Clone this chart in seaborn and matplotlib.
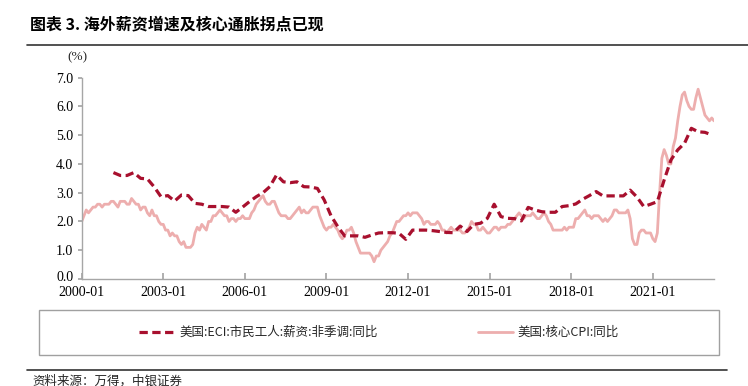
import numpy as np
import pandas as pd
import matplotlib
matplotlib.use("Agg")
import matplotlib.pyplot as plt
import matplotlib.transforms as mtransforms
from matplotlib.patches import Rectangle
import seaborn as sns

# ---------------- data ----------------
# US core CPI y/y, monthly 2000-01 .. 2023-04
cpi_2000_2009 = [
    2.0, 2.2, 2.4, 2.3, 2.4, 2.5, 2.5, 2.6, 2.6, 2.5, 2.6, 2.6,
    2.6, 2.7, 2.7, 2.6, 2.5, 2.7, 2.7, 2.7, 2.6, 2.6, 2.8, 2.7,
    2.6, 2.6, 2.4, 2.5, 2.5, 2.3, 2.2, 2.4, 2.2, 2.2, 2.0, 1.9,
    1.9, 1.7, 1.7, 1.5, 1.6, 1.5, 1.5, 1.3, 1.2, 1.3, 1.1, 1.1,
    1.1, 1.2, 1.6, 1.8, 1.7, 1.9, 1.8, 1.7, 2.0, 2.0, 2.2, 2.2,
    2.3, 2.4, 2.3, 2.2, 2.2, 2.0, 2.1, 2.1, 2.0, 2.1, 2.1, 2.2,
    2.1, 2.1, 2.1, 2.3, 2.4, 2.6, 2.7, 2.8, 2.9, 2.7, 2.6, 2.6,
    2.7, 2.7, 2.5, 2.3, 2.2, 2.2, 2.2, 2.1, 2.1, 2.2, 2.3, 2.4,
    2.5, 2.3, 2.4, 2.3, 2.3, 2.4, 2.5, 2.5, 2.5, 2.2, 2.0, 1.8,
    1.7, 1.8, 1.8, 1.9, 1.8, 1.7, 1.5, 1.4, 1.5, 1.7, 1.7, 1.8,
]
cpi_2010_2023 = [
    1.6, 1.3, 1.1, 0.9, 0.9, 0.9, 0.9, 0.9, 0.8, 0.6, 0.8, 0.8,
    1.0, 1.1, 1.2, 1.3, 1.5, 1.6, 1.8, 2.0, 2.0, 2.1, 2.2, 2.2,
    2.3, 2.2, 2.3, 2.3, 2.3, 2.2, 2.1, 1.9, 2.0, 2.0, 1.9, 1.9,
    1.9, 2.0, 1.9, 1.7, 1.7, 1.6, 1.7, 1.8, 1.7, 1.7, 1.7, 1.7,
    1.6, 1.6, 1.7, 1.8, 2.0, 1.9, 1.9, 1.7, 1.7, 1.8, 1.7, 1.6,
    1.6, 1.7, 1.8, 1.8, 1.7, 1.8, 1.8, 1.8, 1.9, 1.9, 2.0, 2.1,
    2.2, 2.3, 2.2, 2.1, 2.2, 2.2, 2.2, 2.3, 2.2, 2.1, 2.1, 2.2,
    2.3, 2.2, 2.0, 1.9, 1.7, 1.7, 1.7, 1.7, 1.7, 1.8, 1.7, 1.8,
    1.8, 1.8, 2.1, 2.1, 2.2, 2.3, 2.4, 2.2, 2.2, 2.1, 2.2, 2.2,
    2.2, 2.1, 2.0, 2.1, 2.0, 2.1, 2.2, 2.4, 2.4, 2.3, 2.3, 2.3,
    2.3, 2.4, 2.1, 1.4, 1.2, 1.2, 1.6, 1.7, 1.7, 1.6, 1.6, 1.6,
    1.4, 1.3, 1.6, 3.0, 4.2, 4.5, 4.3, 4.0, 4.0, 4.6, 4.9, 5.5,
    6.0, 6.4, 6.5, 6.2, 6.0, 5.9, 5.9, 6.3, 6.6, 6.3, 6.0, 5.7,
    5.6, 5.5, 5.6, 5.5,
]
cpi_values = cpi_2000_2009 + cpi_2010_2023

# US ECI civilian wages y/y (NSA), quarterly 2001Q1 .. 2023Q1
eci_values = [
    3.7, 3.6, 3.6, 3.7,
    3.5, 3.48, 3.2, 2.86,
    2.9, 2.71, 2.92, 2.9,
    2.63, 2.6, 2.52, 2.52,
    2.52, 2.5, 2.32, 2.5,
    2.69, 2.86, 3.0, 3.21,
    3.62, 3.38, 3.35, 3.38,
    3.21, 3.2, 3.15, 2.75,
    2.2, 1.82, 1.5, 1.5,
    1.5, 1.45, 1.53, 1.6,
    1.61, 1.61, 1.59, 1.38,
    1.70, 1.70, 1.70, 1.68,
    1.65, 1.62, 1.61, 1.84,
    1.65, 1.9, 1.94, 2.11,
    2.6, 2.17, 2.11, 2.1,
    2.02, 2.49, 2.4, 2.34,
    2.32, 2.32, 2.52, 2.55,
    2.61, 2.77, 2.9, 3.04,
    2.89, 2.89, 2.89, 2.89,
    3.09, 2.85, 2.52, 2.6,
    2.69, 3.44, 4.14, 4.49,
    4.72, 5.24, 5.12, 5.1,
    5.01,
]

tick_labels = ["2000-01", "2003-01", "2006-01", "2009-01", "2012-01",
               "2015-01", "2018-01", "2021-01"]
y_ticks = [0, 1, 2, 3, 4, 5, 6, 7]

eci_name = "美国:ECI:市民工人:薪资:非季调:同比"
cpi_name = "美国:核心CPI:同比"
title_text = "图表 3. 海外薪资增速及核心通胀拐点已现"
source_text = "资料来源：万得，中银证券"

# ---------------- frames ----------------
cpi_df = pd.DataFrame({"idx": np.arange(len(cpi_values)), "value": cpi_values})
eci_months = pd.date_range("2001-03-01", periods=len(eci_values), freq="3MS")
eci_idx = [(d.year - 2000) * 12 + d.month - 1 for d in eci_months]
eci_df = pd.DataFrame({"idx": eci_idx, "value": eci_values})

# ---------------- style ----------------
sns.set_theme(style="white")
plt.rcParams["font.family"] = ["Noto Sans CJK SC", "DejaVu Sans"]

ECI_COLOR = "#A8102E"
CPI_COLOR = "#EDAEAE"
AXIS_COLOR = "#A6A6A6"
SERIF = ["Liberation Serif", "DejaVu Serif"]

fig = plt.figure(figsize=(7.48, 3.86), dpi=100)
ax = fig.add_axes([81.7 / 748, 107 / 386, (714 - 81.7) / 748, (279 - 77.7) / 386])

sns.lineplot(data=cpi_df, x="idx", y="value", ax=ax, color=CPI_COLOR,
             linewidth=2.0, label=cpi_name, zorder=2)
sns.lineplot(data=eci_df, x="idx", y="value", ax=ax, color=ECI_COLOR,
             linewidth=2.3, label=eci_name, zorder=3)
ax.lines[-1].set_dashes([2.6, 1.4])

ax.set_xlim(0, len(cpi_values) - 1)
ax.set_ylim(0, 7)
ax.set_xticks(np.arange(0, 36 * len(tick_labels), 36))
ax.set_xticklabels(tick_labels, fontfamily=SERIF, fontsize=10)
ax.set_yticks(y_ticks)
ax.set_yticklabels([f"{v:.1f}" for v in y_ticks], fontfamily=SERIF, fontsize=10)
ax.set_xlabel("")
ax.set_ylabel("")

for side in ["top", "right"]:
    ax.spines[side].set_visible(False)
for side in ["left", "bottom"]:
    ax.spines[side].set_color(AXIS_COLOR)
    ax.spines[side].set_linewidth(1.0)
ax.tick_params(axis="x", direction="in", length=4, color=AXIS_COLOR,
               pad=5, labelcolor="black", bottom=True)
ax.tick_params(axis="y", direction="out", length=3, color=AXIS_COLOR,
               pad=3, labelcolor="black", left=True)
ax.grid(False)

# nudge the "0.0" label up slightly so it clears the first date label
zero_lbl = ax.get_yticklabels()[0]
zero_lbl.set_transform(zero_lbl.get_transform() +
                       mtransforms.ScaledTranslation(0, 2.5 / 72, fig.dpi_scale_trans))

# legend
ax.get_legend().remove()
handles, labels = ax.get_legend_handles_labels()
order = [labels.index(eci_name), labels.index(cpi_name)]
leg = fig.legend([handles[i] for i in order], [labels[i] for i in order],
                 loc="center",
                 bbox_to_anchor=(39.3 / 748, 31 / 386, 680 / 748, 45 / 386),
                 ncol=2, frameon=False, fontsize=9,
                 handlelength=2.8, handletextpad=0.4, columnspacing=8.0,
                 borderaxespad=0)
fig.patches.append(Rectangle((39.3 / 748, 31 / 386), 680 / 748, 45 / 386,
                             transform=fig.transFigure, fill=False,
                             edgecolor="#A0A0A0", linewidth=1.0))

# title, rules, unit and source
fig.text(30 / 748, 1 - 24 / 386, title_text, fontsize=11.5, fontweight="bold",
         ha="left", va="center", color="black")
fig.add_artist(plt.Line2D([27 / 748, 1.0], [1 - 45 / 386, 1 - 45 / 386],
                          transform=fig.transFigure, color="#333333", linewidth=1.2))
fig.text(77 / 748, 1 - 57 / 386, "(%)", fontsize=9.5, fontfamily=SERIF,
         ha="center", va="center")
fig.add_artist(plt.Line2D([27 / 748, 727 / 748], [1 - 370 / 386, 1 - 370 / 386],
                          transform=fig.transFigure, color="#333333", linewidth=1.2))
fig.text(32 / 748, 1 - 381 / 386, source_text, fontsize=9, style="italic",
         ha="left", va="center")

fig.savefig("out.png", dpi=100)
